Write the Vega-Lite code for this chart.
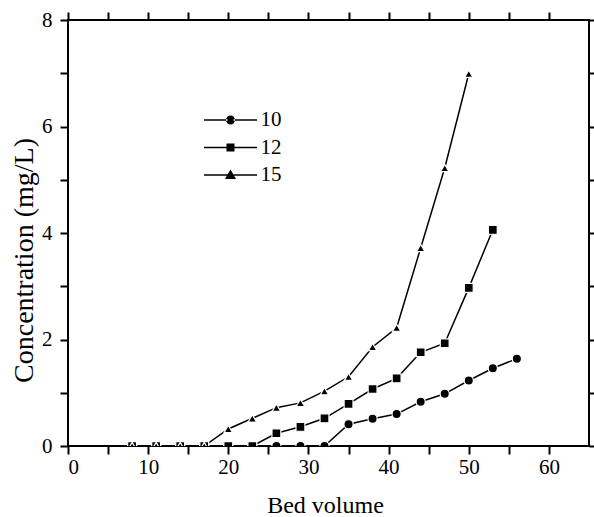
{
  "$schema": "https://vega.github.io/schema/vega-lite/v6.json",
  "width": 521,
  "height": 426,
  "autosize": "none",
  "padding": {"left": 68, "top": 20, "right": 5, "bottom": 71},
  "background": "white",
  "config": {
    "view": {"stroke": "black", "strokeWidth": 2},
    "font": "Liberation Serif, Times New Roman, serif",
    "axis": {
      "labelFont": "Liberation Serif, Times New Roman, serif",
      "titleFont": "Liberation Serif, Times New Roman, serif",
      "labelColor": "black",
      "titleColor": "black",
      "grid": false,
      "domain": false,
      "ticks": true,
      "tickColor": "black",
      "tickWidth": 2,
      "tickSize": 8,
      "labelFontSize": 21,
      "titleFontSize": 24,
      "titleFontWeight": "normal"
    },
    "legend": {
      "labelFont": "Liberation Serif, Times New Roman, serif",
      "labelFontSize": 21,
      "labelColor": "black"
    }
  },
  "data": {
    "values": [
      {"s": "10", "bv": 8, "c": 0}, {"s": "10", "bv": 11, "c": 0}, {"s": "10", "bv": 14, "c": 0},
      {"s": "10", "bv": 17, "c": 0}, {"s": "10", "bv": 20, "c": 0}, {"s": "10", "bv": 23, "c": 0},
      {"s": "10", "bv": 26, "c": 0}, {"s": "10", "bv": 29, "c": 0}, {"s": "10", "bv": 32, "c": 0},
      {"s": "10", "bv": 35, "c": 0.41}, {"s": "10", "bv": 38, "c": 0.51}, {"s": "10", "bv": 41, "c": 0.6},
      {"s": "10", "bv": 44, "c": 0.83}, {"s": "10", "bv": 47, "c": 0.98}, {"s": "10", "bv": 50, "c": 1.23},
      {"s": "10", "bv": 53, "c": 1.46}, {"s": "10", "bv": 56, "c": 1.64},
      {"s": "12", "bv": 8, "c": 0}, {"s": "12", "bv": 11, "c": 0}, {"s": "12", "bv": 14, "c": 0},
      {"s": "12", "bv": 17, "c": 0}, {"s": "12", "bv": 20, "c": 0}, {"s": "12", "bv": 23, "c": 0},
      {"s": "12", "bv": 26, "c": 0.24}, {"s": "12", "bv": 29, "c": 0.36}, {"s": "12", "bv": 32, "c": 0.52},
      {"s": "12", "bv": 35, "c": 0.79}, {"s": "12", "bv": 38, "c": 1.07}, {"s": "12", "bv": 41, "c": 1.27},
      {"s": "12", "bv": 44, "c": 1.76}, {"s": "12", "bv": 47, "c": 1.93}, {"s": "12", "bv": 50, "c": 2.97},
      {"s": "12", "bv": 53, "c": 4.06},
      {"s": "15", "bv": 8, "c": 0}, {"s": "15", "bv": 11, "c": 0}, {"s": "15", "bv": 14, "c": 0},
      {"s": "15", "bv": 17, "c": 0}, {"s": "15", "bv": 20, "c": 0.32}, {"s": "15", "bv": 23, "c": 0.52},
      {"s": "15", "bv": 26, "c": 0.72}, {"s": "15", "bv": 29, "c": 0.81}, {"s": "15", "bv": 32, "c": 1.03},
      {"s": "15", "bv": 35, "c": 1.3}, {"s": "15", "bv": 38, "c": 1.86}, {"s": "15", "bv": 41, "c": 2.22},
      {"s": "15", "bv": 44, "c": 3.72}, {"s": "15", "bv": 47, "c": 5.22}, {"s": "15", "bv": 50, "c": 6.99}
    ]
  },
  "layer": [
    {
      "mark": {"type": "line", "color": "black", "strokeWidth": 1.5, "clip": true},
      "encoding": {
        "x": {
          "field": "bv", "type": "quantitative",
          "scale": {"domain": [0, 65], "nice": false, "zero": false},
          "axis": {
            "orient": "bottom",
            "title": "Bed volume",
            "values": [0, 5, 10, 15, 20, 25, 30, 35, 40, 45, 50, 55, 60],
            "labelExpr": "datum.value % 10 === 0 ? datum.label : ''",
            "labelPadding": 2,
            "titlePadding": 16,
            "titleX": 257,
            "encode": {"ticks": {"update": {"y2": {"signal": "datum.value % 10 === 0 ? -8 : -4.5"}}}}
          }
        },
        "y": {
          "field": "c", "type": "quantitative",
          "scale": {"domain": [0, 8], "nice": false},
          "axis": {
            "orient": "left",
            "title": "Concentration (mg/L)",
            "titleFontSize": 28,
            "titleY": 240,
            "values": [0, 1, 2, 3, 4, 5, 6, 7, 8],
            "labelExpr": "datum.value % 2 === 0 ? datum.label : ''",
            "labelPadding": 8,
            "titlePadding": 3,
            "encode": {"ticks": {"update": {"x2": {"signal": "datum.value % 2 === 0 ? 8 : 4.5"}}}}
          }
        },
        "detail": {"field": "s"}
      }
    },
    {
      "mark": {"type": "point", "filled": true, "color": "black", "opacity": 1, "stroke": "white", "strokeWidth": 1.2, "clip": true},
      "encoding": {
        "x": {
          "field": "bv", "type": "quantitative",
          "axis": {
            "orient": "top",
            "title": null,
            "labels": false,
            "values": [0, 5, 10, 15, 20, 25, 30, 35, 40, 45, 50, 55, 60],
            "encode": {"ticks": {"update": {"y2": {"signal": "datum.value % 10 === 0 ? 8 : 4.5"}}}}
          }
        },
        "y": {
          "field": "c", "type": "quantitative",
          "axis": {
            "orient": "right",
            "title": null,
            "labels": false,
            "values": [0, 1, 2, 3, 4, 5, 6, 7, 8],
            "encode": {"ticks": {"update": {"x2": {"signal": "datum.value % 2 === 0 ? -8 : -4.5"}}}}
          }
        },
        "shape": {
          "field": "s", "type": "nominal",
          "scale": {"domain": ["10", "12", "15"], "range": ["circle", "square", "triangle-up"]},
          "legend": null
        },
        "size": {
          "field": "s", "type": "nominal",
          "scale": {"domain": ["10", "12", "15"], "range": [85, 72, 110]},
          "legend": null
        }
      }
    },
    {
      "mark": {"type": "point", "filled": true, "color": "black", "opacity": 0},
      "encoding": {
        "x": {"field": "bv", "type": "quantitative", "axis": null},
        "y": {"field": "c", "type": "quantitative", "axis": null},
        "shape": {
          "field": "s", "type": "nominal",
          "scale": {
            "domain": ["10", "12", "15"],
            "range": [
              "M-2.65,-0.075H-0.3V0.075H-2.65Z M0.3,-0.075H2.65V0.075H0.3Z M-0.45,0A0.45,0.45 0 1,0 0.45,0A0.45,0.45 0 1,0 -0.45,0Z",
              "M-2.65,-0.075H-0.3V0.075H-2.65Z M0.3,-0.075H2.65V0.075H0.3Z M-0.4,-0.4H0.4V0.4H-0.4Z",
              "M-2.65,-0.075H-0.3V0.075H-2.65Z M0.3,-0.075H2.65V0.075H0.3Z M0,-0.55L0.55,0.4H-0.55Z"
            ]
          },
          "legend": {
            "title": null,
            "orient": "none",
            "legendX": 151.5,
            "legendY": 89,
            "padding": 0,
            "symbolSize": 400,
            "labelOffset": 19,
            "rowPadding": 6.5,
            "encode": {
              "symbols": {
                "update": {
                  "fill": {"value": "black"},
                  "fillOpacity": {"value": 1},
                  "strokeWidth": {"value": 0},
                  "opacity": {"value": 1},
                  "size": {"value": 400}
                }
              }
            }
          }
        }
      }
    }
  ],
  "resolve": {
    "axis": {"x": "independent", "y": "independent"},
    "scale": {"shape": "independent", "size": "independent"},
    "legend": {"shape": "independent"}
  }
}
